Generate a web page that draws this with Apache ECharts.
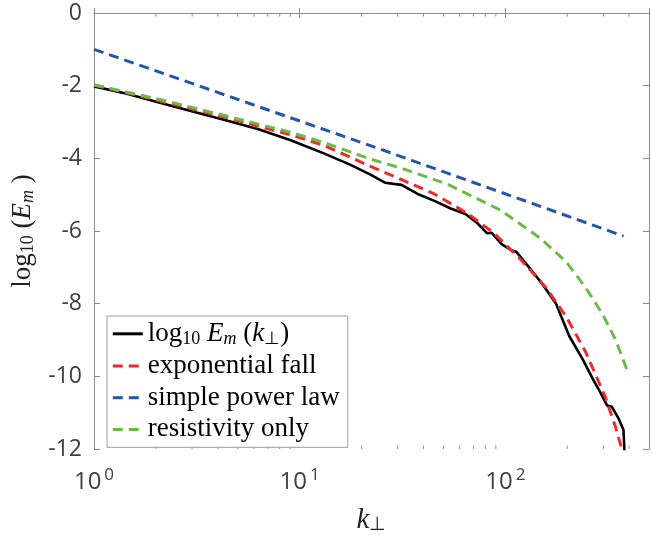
<!DOCTYPE html>
<html>
<head>
<meta charset="utf-8">
<script src="https://cdn.jsdelivr.net/npm/echarts@6/dist/echarts.min.js"></script>
<style>
  html, body { margin: 0; padding: 0; background: #fff; }
  #chart { width: 652px; height: 540px; }
</style>
</head>
<body>
<div id="chart"></div>
<script>
// measured spectrum log10 Em(k_perp)
var measK = [1, 1.445, 2.09, 3.02, 4.37, 6.31, 9.12, 13.2, 17.7, 22.1, 26, 31.3, 37.5, 45.2, 54.3, 64, 73, 81.5, 86, 96, 107, 113.5, 131.4, 152, 176.6, 204.6, 237, 270, 290, 312.6, 330, 355.6, 375.6, 379.5, 380]
var measV = [-2.02, -2.22, -2.47, -2.71, -2.95, -3.2, -3.51, -3.87, -4.18, -4.45, -4.67, -4.73, -4.98, -5.17, -5.38, -5.53, -5.78, -6.06, -6.05, -6.36, -6.53, -6.58, -7.02, -7.47, -8.0, -8.89, -9.51, -10.13, -10.44, -10.8, -10.84, -11.16, -11.47, -12.0, -12.6]
// model curves
var expK = [1, 2.09, 4.37, 9.12, 13.2, 22.1, 31.2, 45.2, 65.3, 87.7, 117.7, 158, 198, 246, 307, 343, 369, 380]
var expV = [-1.98, -2.42, -2.87, -3.36, -3.65, -4.22, -4.58, -4.98, -5.51, -6.05, -6.76, -7.56, -8.36, -9.33, -10.58, -11.38, -12.0, -12.4]
var powK = [1, 22.1, 376]
var powV = [-1.0, -3.65, -6.14]
var resK = [1, 2.09, 4.37, 9.12, 13.2, 22.1, 31.2, 52.3, 94.3, 146.8, 198, 246, 296, 343, 394]
var resV = [-1.98, -2.38, -2.83, -3.29, -3.57, -4.02, -4.27, -4.71, -5.42, -6.18, -6.85, -7.56, -8.27, -8.98, -9.87]
// axis ticks
var xMinorTicks = [2, 3, 4, 5, 6, 7, 8, 9, 20, 30, 40, 50, 60, 70, 80, 90, 200, 300, 400]
var seriesNames = ['log10 Em (k⊥)', 'exponential fall', 'simple power law', 'resistivity only']

var axisGray = '#8c8c8c'
var labelGray = '#404040'

function pairs (ks, vs) {
  return ks.map(function (k, i) { return [k, vs[i]] })
}

var lineSeries = [
  { name: seriesNames[0], data: pairs(measK, measV), color: '#000000', type: 'solid', width: 2.6 },
  { name: seriesNames[1], data: pairs(expK, expV), color: '#ee2b2b', type: [10, 6], width: 3 },
  { name: seriesNames[2], data: pairs(powK, powV), color: '#2456a6', type: [10, 6], width: 3 },
  { name: seriesNames[3], data: pairs(resK, resV), color: '#6cba48', type: [10, 6], width: 3 }
].map(function (s) {
  return {
    name: s.name,
    type: 'line',
    data: s.data,
    symbol: 'none',
    smooth: false,
    clip: true,
    color: s.color,
    lineStyle: { color: s.color, width: s.width, type: s.type },
    z: s.name === seriesNames[0] ? 3 : 4
  }
})

var xAxisBase = {
  type: 'log',
  logBase: 10,
  min: 1,
  max: 500,
  axisLine: { lineStyle: { color: axisGray, width: 1 } },
  axisTick: { inside: true, length: 5, lineStyle: { color: axisGray } },
  splitLine: { show: false }
}
var yAxisBase = {
  type: 'value',
  min: -12,
  max: 0,
  interval: 2,
  axisLine: { show: true, lineStyle: { color: axisGray, width: 1 } },
  axisTick: { show: true, inside: true, length: 6, lineStyle: { color: axisGray } },
  splitLine: { show: false }
}

var serif = 'Liberation Serif'
var richText = function (size, sub, color) {
  return {
    r: { fontFamily: serif, fontSize: size, color: color, lineHeight: size + 1 },
    i: { fontFamily: serif, fontStyle: 'italic', fontSize: size, color: color, lineHeight: size + 1 },
    s: { fontFamily: serif, fontSize: sub, color: color, verticalAlign: 'bottom', lineHeight: sub },
    si: { fontFamily: serif, fontStyle: 'italic', fontSize: sub, color: color, verticalAlign: 'bottom', lineHeight: sub }
  }
}

var option = {
  animation: false,
  backgroundColor: '#fff',
  grid: { left: 94, right: -4, top: 13, bottom: 77 },
  legend: {
    data: seriesNames,
    orient: 'vertical',
    left: 107,
    top: 316,
    itemWidth: 30,
    itemHeight: 14,
    itemGap: 4.7,
    padding: [4.3, 8, 4.4, 4.3],
    borderColor: '#9a9a9a',
    borderWidth: 1,
    backgroundColor: '#fff',
    selectedMode: false,
    itemStyle: { opacity: 0 },
    lineStyle: { width: 3 },
    formatter: function (name) {
      if (name === seriesNames[0]) {
        return '{r|log}{s|10}{r| }{i|E}{si|m}{r| (}{i|k}{s|⊥}{r|)}'
      }
      return '{r|' + name + '}'
    },
    textStyle: {
      fontFamily: serif,
      fontSize: 27,
      color: '#000',
      rich: richText(27, 18, '#000')
    }
  },
  xAxis: [
    Object.assign({}, xAxisBase, {
      position: 'bottom',
      name: '{i|k}{s|⊥}',
      nameLocation: 'middle',
      nameGap: 56,
      nameTextStyle: { rich: richText(29, 19, '#222') },
      axisLabel: {
        margin: 18,
        formatter: function (v) {
          var e = Math.round(Math.log10(v))
          if (Math.abs(Math.log10(v) - e) > 1e-6) return ''
          return '{b|10}{p|' + e + '}'
        },
        rich: {
          b: { fontFamily: 'Open Sans', fontSize: 24, color: labelGray, lineHeight: 30 },
          p: { fontFamily: 'Open Sans', fontSize: 17, color: labelGray, verticalAlign: 'top', padding: [0, 0, 0, 3] }
        }
      }
    }),
    Object.assign({}, xAxisBase, {
      position: 'top',
      axisLabel: { show: false }
    })
  ],
  yAxis: [
    Object.assign({}, yAxisBase, {
      position: 'left',
      name: '{r|log}{s|10}{r| (}{i|E}{si|m}{r| )}',
      nameLocation: 'middle',
      nameRotate: 90,
      nameGap: 54,
      nameTextStyle: { rich: richText(27, 18, '#222') },
      axisLabel: {
        margin: 12,
        fontFamily: 'Open Sans',
        fontSize: 23,
        color: labelGray,
        padding: [8, 0, 0, 0]
      }
    }),
    Object.assign({}, yAxisBase, {
      position: 'right',
      axisLabel: { show: false }
    })
  ],
  series: lineSeries.concat([
    {
      name: 'minor ticks',
      type: 'custom',
      data: xMinorTicks.map(function (k) { return [k, -12] }),
      encode: { x: 0, y: 1 },
      clip: false,
      silent: true,
      renderItem: function (params, api) {
        var x = api.coord([api.value(0), -12])[0]
        var yb = api.coord([1, -12])[1]
        var yt = api.coord([1, 0])[1]
        var st = { stroke: axisGray, lineWidth: 1 }
        return {
          type: 'group',
          children: [
            { type: 'line', shape: { x1: x, y1: yb, x2: x, y2: yb - 3.5 }, style: st },
            { type: 'line', shape: { x1: x, y1: yt, x2: x, y2: yt + 3.5 }, style: st }
          ]
        }
      }
    }
  ])
}

var chart = echarts.init(document.getElementById('chart'))
chart.setOption(option)
</script>
</body>
</html>
